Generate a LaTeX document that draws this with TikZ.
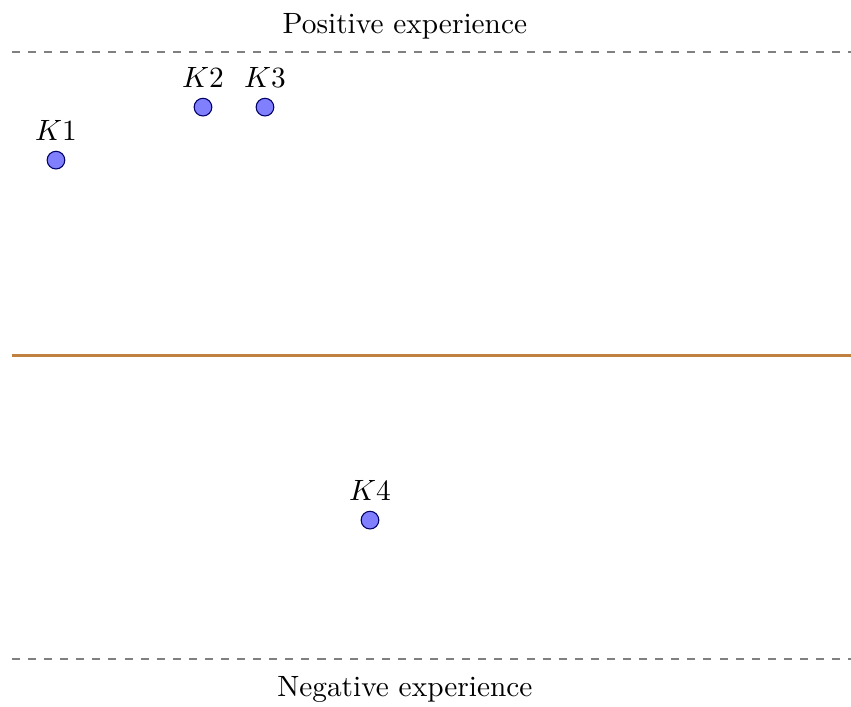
\documentclass[tikz,border=0pt,11pt]{standalone}
\usepackage{tikz}
\usetikzlibrary{positioning}

\begin{document}
\begin{tikzpicture}[
    dot/.style={circle, draw=blue!40!black, fill=blue!50, inner sep=0pt,
                minimum size=6.6pt, label distance=-1.2pt},
    bound/.style={dashed, semithick, gray},
    neutral/.style={very thick, brown},
    caption/.style={font=\normalsize},
]
\useasboundingbox (0,0) rectangle (11.16,9.26);

% experience axis
\coordinate (topL) at (0.157,8.577);
\coordinate (topR) at (11.16,8.577);
\coordinate (midL) at (0.157,4.603);
\coordinate (midR) at (11.16,4.603);
\coordinate (botL) at (0.157,0.616);
\coordinate (botR) at (11.16,0.616);

\draw[bound] (topL) -- (topR);
\draw[neutral] (midL) -- (midR);
\draw[bound] (botL) -- (botR);

\node[caption, above=0.03cm] (pos) at (5.31,8.577) {Positive experience};
\node[caption, below=0.09cm] (neg) at (5.31,0.616) {Negative experience};

% points
\node[dot, label=above:$K1$] (k1) at (0.734,7.160) {};
\node[dot, label=above:$K2$] (k2) at (2.662,7.855) {};
\node[dot, label=above:$K3$] (k3) at (3.475,7.855) {};
\node[dot, label=above:$K4$] (k4) at (4.852,2.439) {};
\end{tikzpicture}
\end{document}
